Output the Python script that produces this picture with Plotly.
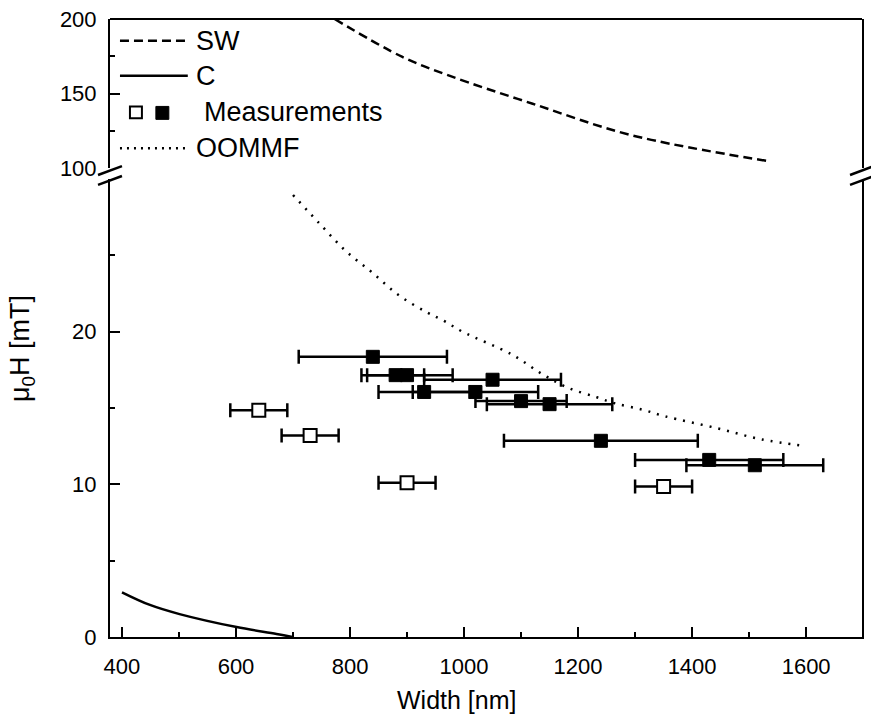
import plotly.graph_objects as go

# ---- data -------------------------------------------------------------
# Stoner-Wohlfarth model (upper panel, mT)
sw_width = [773, 891, 974, 1119, 1294, 1533]
sw_field = [200.0, 174.7, 162.0, 143.3, 122.0, 104.7]

# Curling model C (lower panel, mT)
c_width = [400, 449, 501, 601, 671, 699]
c_field = [2.93, 2.1, 1.5, 0.65, 0.2, 0.0]

# OOMMF micromagnetic simulation
oommf_width = [700, 746, 792, 838, 885, 933, 965, 997, 1084, 1138, 1184, 1233, 1265, 1312, 1353, 1441, 1521, 1600]
oommf_field = [28.95, 27.1, 25.3, 23.9, 22.4, 21.3, 20.7, 20.0, 18.5, 17.2, 16.3, 15.7, 15.3, 14.9, 14.45, 13.7, 12.95, 12.5]

# Measurements: open symbols
open_width = [640, 730, 900, 1350]
open_field = [14.85, 13.2, 10.1, 9.85]
open_err = [50, 50, 50, 50]

# Measurements: filled symbols
full_width = [840, 880, 900, 1050, 930, 1020, 1100, 1150, 1240, 1430, 1510]
full_field = [18.35, 17.15, 17.15, 16.85, 16.05, 16.05, 15.45, 15.25, 12.85, 11.6, 11.25]
full_err = [130, 50, 80, 120, 80, 110, 80, 110, 170, 130, 120]

x_ticks = [400, 600, 800, 1000, 1200, 1400, 1600]
y_low_ticks = [0, 10, 20]
y_high_ticks = [100, 150, 200]

# ---- geometry --------------------------------------------------------
W, H = 871, 724
ML, MR, MT, MB = 110, 7, 15, 87
PW, PH = W - ML - MR, H - MT - MB
LOW_TOP_PX = 176      # top of lower panel (pixel row)
HIGH_BOT_PX = 165     # bottom of upper panel (pixel row)


def px(xp):
    return (xp - ML) / PW


def py(yp):
    return (H - MB - yp) / PH


FONT = "Liberation Sans, Arial, sans-serif"
BLACK = "black"

fig = go.Figure()

fig.add_trace(go.Scatter(x=sw_width, y=sw_field, xaxis="x", yaxis="y2", mode="lines",
                         line=dict(color=BLACK, width=2.5, dash="9px,5px", shape="spline"),
                         showlegend=False))
fig.add_trace(go.Scatter(x=c_width, y=c_field, mode="lines",
                         line=dict(color=BLACK, width=2.5, shape="spline"), showlegend=False))
fig.add_trace(go.Scatter(x=oommf_width, y=oommf_field, mode="lines",
                         line=dict(color=BLACK, width=2.5, dash="2px,7px", shape="spline"),
                         showlegend=False))
fig.add_trace(go.Scatter(x=full_width, y=full_field, mode="markers",
                         marker=dict(symbol="square", size=13, color=BLACK,
                                     line=dict(color=BLACK, width=1)),
                         error_x=dict(type="data", array=full_err, symmetric=True,
                                      color=BLACK, thickness=2.5, width=7),
                         showlegend=False))
fig.add_trace(go.Scatter(x=open_width, y=open_field, mode="markers",
                         marker=dict(symbol="square", size=13, color="white",
                                     line=dict(color=BLACK, width=2)),
                         error_x=dict(type="data", array=open_err, symmetric=True,
                                      color=BLACK, thickness=2.5, width=7),
                         showlegend=False))

tickfont = dict(family=FONT, size=22, color=BLACK)

fig.update_layout(
    width=W, height=H,
    margin=dict(l=ML, r=MR, t=MT, b=MB),
    paper_bgcolor="white", plot_bgcolor="white",
    showlegend=False,
    xaxis=dict(range=[379, 1698], tickvals=x_ticks, ticks="inside", ticklen=10, tickwidth=2,
               tickcolor=BLACK, showline=True, linewidth=2, linecolor=BLACK, mirror=False,
               showgrid=False, zeroline=False, tickfont=tickfont, anchor="y",
               ticklabelstandoff=9,
               minor=dict(dtick=100, tick0=400, ticks="inside", ticklen=5, tickwidth=2,
                          tickcolor=BLACK, showgrid=False)),
    yaxis=dict(domain=[0, py(LOW_TOP_PX)], range=[0, 30], tickvals=y_low_ticks,
               ticks="inside", ticklen=10, tickwidth=2, tickcolor=BLACK,
               showline=True, linewidth=2, linecolor=BLACK, mirror=True,
               showgrid=False, zeroline=False, tickfont=tickfont, anchor="x",
               ticklabelstandoff=7,
               minor=dict(dtick=5, tick0=0, ticks="inside", ticklen=5, tickwidth=2,
                          tickcolor=BLACK, showgrid=False)),
    yaxis2=dict(domain=[py(HIGH_BOT_PX), 1], range=[100, 200], tickvals=y_high_ticks,
                ticks="inside", ticklen=10, tickwidth=2, tickcolor=BLACK,
                showline=True, linewidth=2, linecolor=BLACK, mirror=True,
                showgrid=False, zeroline=False, tickfont=tickfont, anchor="x",
                ticklabelstandoff=7,
                minor=dict(dtick=25, tick0=100, ticks="inside", ticklen=5, tickwidth=2,
                           tickcolor=BLACK, showgrid=False)),
)

shapes = []
# top border
shapes.append(dict(type="line", xref="paper", yref="paper", x0=0, x1=1, y0=1, y1=1,
                   line=dict(color=BLACK, width=2)))
# axis break marks on both sides
for xc in (ML, W - MR):
    for (x0, y0, x1, y1) in ((-12, 172, 12, 163), (-12, 182, 12, 173)):
        shapes.append(dict(type="line", xref="paper", yref="paper",
                           x0=px(xc + x0), y0=py(y0), x1=px(xc + x1), y1=py(y1),
                           line=dict(color=BLACK, width=2.5)))

# legend samples
shapes.append(dict(type="line", xref="paper", yref="paper", x0=px(120), x1=px(188),
                   y0=py(37), y1=py(37), line=dict(color=BLACK, width=2.5, dash="9px,5px")))
shapes.append(dict(type="line", xref="paper", yref="paper", x0=px(120), x1=px(188),
                   y0=py(72), y1=py(72), line=dict(color=BLACK, width=2.5)))
shapes.append(dict(type="rect", xref="paper", yref="paper", x0=px(130), x1=px(142),
                   y0=py(115), y1=py(103), fillcolor="white", line=dict(color=BLACK, width=2)))
shapes.append(dict(type="rect", xref="paper", yref="paper", x0=px(156), x1=px(169),
                   y0=py(116), y1=py(103), fillcolor=BLACK, line=dict(color=BLACK, width=1)))
shapes.append(dict(type="line", xref="paper", yref="paper", x0=px(120), x1=px(188),
                   y0=py(145), y1=py(145), line=dict(color=BLACK, width=2.5, dash="2px,5px")))
fig.update_layout(shapes=shapes)

legend_font = dict(family=FONT, size=27, color=BLACK)
annotations = [
    dict(text="SW", x=px(194), y=py(37), xanchor="left", yanchor="middle"),
    dict(text="C", x=px(194), y=py(72), xanchor="left", yanchor="middle"),
    dict(text="Measurements", x=px(202), y=py(109), xanchor="left", yanchor="middle"),
    dict(text="OOMMF", x=px(194), y=py(145), xanchor="left", yanchor="middle"),
]
for a in annotations:
    a.update(xref="paper", yref="paper", showarrow=False, font=legend_font)

annotations.append(dict(text="Width [nm]", x=px(457), y=py(700), xref="paper", yref="paper",
                        xanchor="center", yanchor="middle", showarrow=False,
                        font=dict(family=FONT, size=25, color=BLACK)))
annotations.append(dict(text="μ<sub>0</sub>H [mT]", x=px(22), y=py(347), xref="paper",
                        yref="paper", xanchor="center", yanchor="middle", textangle=-90,
                        showarrow=False, font=dict(family=FONT, size=27, color=BLACK)))
fig.update_layout(annotations=annotations)

fig.write_html("out.html")
